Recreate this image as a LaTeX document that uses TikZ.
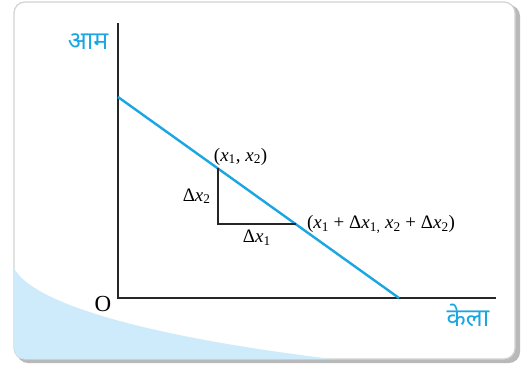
\documentclass[tikz,border=0pt]{standalone}
\usepackage{fontspec}
\setmainfont{Liberation Serif}
\newfontfamily\devfont[Script=Devanagari]{Noto Sans}
\usetikzlibrary{positioning,calc}
\definecolor{lineblue}{HTML}{1AA7E1}
\definecolor{shadeblue}{HTML}{CDEBFA}

\begin{document}
\begin{tikzpicture}[
  x=1pt, y=-1pt,
  axis/.style={line width=2.2pt, black!85},
  budget/.style={line width=2.4pt, lineblue},
  delta/.style={line width=2pt, black!85},
  lab/.style={inner sep=1pt, font=\fontsize{19}{21}\selectfont},
  hindi/.style={inner sep=0pt, text=lineblue, font=\devfont\fontsize{25}{28}\selectfont}
]
\useasboundingbox (0,0) rectangle (524,367);

% Frame with shadow
\fill[gray!55, rounded corners=11pt] (17,5) rectangle (520,363);
\path[fill=white, draw=gray!35, line width=1.2pt, rounded corners=11pt]
  (14,2) rectangle (515,359);

% Blue shade at bottom left
\begin{scope}
  \clip[rounded corners=11pt] (14,2) rectangle (515,359);
  \fill[shadeblue] (14,268) .. controls (30,300) and (130,335) .. (340,360)
    -- (340,362) -- (14,362) -- cycle;
\end{scope}

% Axes
\coordinate (O) at (118,298);
\coordinate (ytop) at (118,23);
\coordinate (xend) at (496,298);
\draw[axis] (ytop) -- (O) -- (xend);

% Budget line
\coordinate (A) at (118,97);
\coordinate (B) at (399,298);
\draw[budget] (A) -- (B);

% Points and the small triangle
\coordinate (P1) at ($(A)!0.355!(B)$);
\coordinate (P2) at ($(A)!0.633!(B)$);
\coordinate (Q) at (P1 |- P2);
\draw[delta] (P1) -- (Q) -- (P2);

% Labels
\node[lab, anchor=south west] (p1lab) at ($(P1)+(-5,-2)$)
  {(\textit{x}\textsubscript{1}, \textit{x}\textsubscript{2})};
\node[lab, right=10pt of P2] (p2lab)
  {(\textit{x}\textsubscript{1} + Δ\textit{x}\textsubscript{1,} \textit{x}\textsubscript{2} + Δ\textit{x}\textsubscript{2})};
\node[lab, left=6pt] (dx2) at ($(P1)!0.5!(Q)$) {Δ\textit{x}\textsubscript{2}};
\node[lab, below=5pt] (dx1) at ($(Q)!0.5!(P2)$) {Δ\textit{x}\textsubscript{1}};
\node[inner sep=0pt, font=\fontsize{23}{25}\selectfont] (olab) at (103,304) {O};
\node[hindi] (ylab) at (88,42) {आम};
\node[hindi] (xlab) at (468,315) {केला};

\end{tikzpicture}
\end{document}
